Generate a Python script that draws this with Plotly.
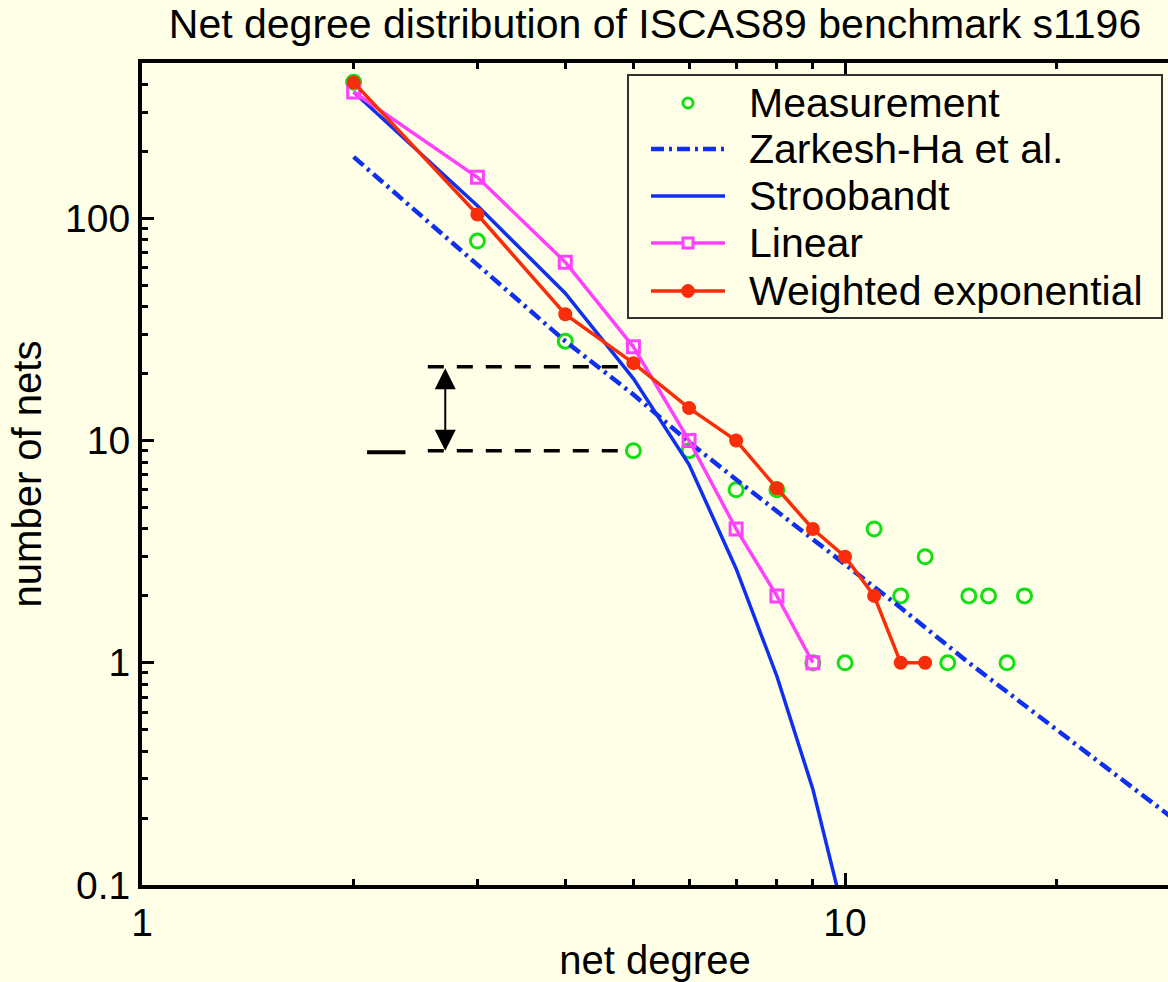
import math
import plotly.graph_objects as go

# ---------------- data ----------------
meas_degree = [2, 3, 4, 5, 6, 7, 8, 9, 10, 11, 12, 13, 14, 15, 16, 17, 18]
meas_nets = [410, 79, 28, 9, 9, 6, 6, 1, 1, 4, 2, 3, 1, 2, 2, 1, 2]

zarkesh_degree = [2, 3, 4, 5, 6, 7, 8, 9, 10, 12, 15, 20, 25, 30]
zarkesh_nets = [189, 61.4, 28, 16.1, 9.84, 6.68, 4.79, 3.59, 2.77, 1.77, 1.0, 0.5, 0.292, 0.188]

stroobandt_degree = [2, 3, 4, 5, 6, 7, 8, 9, 10]
stroobandt_nets = [370, 114, 46, 19, 7.8, 2.65, 0.87, 0.27, 0.07]

linear_degree = [2, 3, 4, 5, 6, 7, 8, 9]
linear_nets = [370, 153, 63.5, 26.4, 10, 4, 2, 1]

wexp_degree = [2, 3, 4, 5, 6, 7, 8, 9, 10, 11, 12, 13]
wexp_nets = [409, 104, 37, 22.3, 14, 10, 6.1, 4, 3, 2, 1, 1]

series_names = ["Measurement", "Zarkesh-Ha et al.", "Stroobandt", "Linear", "Weighted exponential"]

x_tick_vals = [1, 10]
x_tick_text = ["1", "10"]
y_tick_vals = [0.1, 1, 10, 100]
y_tick_text = ["0.1", "1", "10", "100"]
x_minor_vals = [2, 3, 4, 5, 6, 7, 8, 9, 20]
y_minor_vals = [0.2, 0.3, 0.4, 0.5, 0.6, 0.7, 0.8, 0.9, 2, 3, 4, 5, 6, 7, 8, 9,
                20, 30, 40, 50, 60, 70, 80, 90, 200, 300, 400]

x_range = [1, 28.8]
y_range = [0.1, 500]

# gap marker between model and measurement at degree 5
gap_degree = 2.7
gap_model = 21.5
gap_meas = 9.0
gap_line_start = 2.55
gap_line_end = 4.8
stub_start = 2.09
stub_end = 2.37
stub_level = 8.85

# ---------------- style ----------------
FONT = "Liberation Sans, Arial, Helvetica, sans-serif"
FS = 39
FS_BIG = 41
BG = "#FFFEE6"
GREEN = "#12E012"
BLUE = "#1030F0"
MAGENTA = "#FF40FF"
RED = "#FA2D0A"
DASHDOT = "13px,5px,3px,5px"

W, H = 1168, 982
L, R, T, B = 142, 1168, 63, 885


def px(x):
    return (x - L) / (R - L)


def py(y):
    return (B - y) / (B - T)


fig = go.Figure()
fig.add_trace(go.Scatter(x=meas_degree, y=meas_nets, mode="markers", name=series_names[0],
                         marker=dict(symbol="circle-open", size=14, color=GREEN, line=dict(width=3, color=GREEN)),
                         showlegend=False))
fig.add_trace(go.Scatter(x=zarkesh_degree, y=zarkesh_nets, mode="lines", name=series_names[1],
                         line=dict(color=BLUE, width=4.5, dash=DASHDOT), showlegend=False))
fig.add_trace(go.Scatter(x=stroobandt_degree, y=stroobandt_nets, mode="lines", name=series_names[2],
                         line=dict(color=BLUE, width=3.5), showlegend=False))
fig.add_trace(go.Scatter(x=linear_degree, y=linear_nets, mode="lines+markers", name=series_names[3],
                         line=dict(color=MAGENTA, width=3.5),
                         marker=dict(symbol="square-open", size=12, color=MAGENTA, line=dict(width=3, color=MAGENTA)),
                         showlegend=False))
fig.add_trace(go.Scatter(x=wexp_degree, y=wexp_nets, mode="lines+markers", name=series_names[4],
                         line=dict(color=RED, width=3.5),
                         marker=dict(symbol="circle", size=14, color=RED),
                         showlegend=False))

shapes = []
# dashed reference lines and stub
for lvl in (gap_model, gap_meas):
    shapes.append(dict(type="line", xref="x", yref="y", x0=gap_line_start, x1=gap_line_end, y0=lvl, y1=lvl,
                       line=dict(color="black", width=3.5, dash="16px,13px")))
shapes.append(dict(type="line", xref="x", yref="y", x0=stub_start, x1=stub_end, y0=stub_level, y1=stub_level,
                   line=dict(color="black", width=4)))

# custom legend box
shapes.append(dict(type="rect", xref="paper", yref="paper", x0=px(628), x1=px(1162), y0=py(318), y1=py(75),
                   line=dict(color="#333333", width=2), fillcolor=BG, layer="above"))
rows = [103, 149, 196, 243, 291]
gx0, gx1, gxc = px(651), px(725), px(688)
shapes.append(dict(type="circle", xref="paper", yref="paper", xsizemode="pixel", ysizemode="pixel",
                   xanchor=gxc, yanchor=py(rows[0]), x0=-5, x1=5, y0=-5, y1=5,
                   line=dict(color=GREEN, width=3), layer="above"))
shapes.append(dict(type="line", xref="paper", yref="paper", x0=gx0, x1=gx1, y0=py(rows[1]), y1=py(rows[1]),
                   line=dict(color=BLUE, width=4.5, dash=DASHDOT), layer="above"))
shapes.append(dict(type="line", xref="paper", yref="paper", x0=gx0, x1=gx1, y0=py(rows[2]), y1=py(rows[2]),
                   line=dict(color=BLUE, width=3.5), layer="above"))
shapes.append(dict(type="line", xref="paper", yref="paper", x0=gx0, x1=gx1, y0=py(rows[3]), y1=py(rows[3]),
                   line=dict(color=MAGENTA, width=3.5), layer="above"))
shapes.append(dict(type="rect", xref="paper", yref="paper", xsizemode="pixel", ysizemode="pixel",
                   xanchor=gxc, yanchor=py(rows[3]), x0=-5, x1=5, y0=-5, y1=5,
                   line=dict(color=MAGENTA, width=3), fillcolor=BG, layer="above"))
shapes.append(dict(type="line", xref="paper", yref="paper", x0=gx0, x1=gx1, y0=py(rows[4]), y1=py(rows[4]),
                   line=dict(color=RED, width=3.5), layer="above"))
shapes.append(dict(type="circle", xref="paper", yref="paper", xsizemode="pixel", ysizemode="pixel",
                   xanchor=gxc, yanchor=py(rows[4]), x0=-6.5, x1=6.5, y0=-6.5, y1=6.5,
                   line=dict(color=RED, width=1), fillcolor=RED, layer="above"))

annotations = []
for name, ry in zip(series_names, rows):
    annotations.append(dict(xref="paper", yref="paper", x=px(747), y=py(ry), text=name, showarrow=False,
                            xanchor="left", yanchor="middle", font=dict(family=FONT, size=FS_BIG, color="black")))

# double-headed arrow
annotations.append(dict(xref="x", yref="y", axref="x", ayref="y",
                        x=math.log10(gap_degree), y=math.log10(gap_meas),
                        ax=math.log10(gap_degree), ay=math.log10(gap_model),
                        text="", showarrow=True, arrowhead=2, startarrowhead=2, arrowside="end+start",
                        arrowwidth=2, arrowsize=2.1, startarrowsize=2.1, arrowcolor="black",
                        standoff=0, startstandoff=0))

fig.update_layout(
    width=W, height=H,
    margin=dict(l=L, r=W - R, t=T, b=H - B, pad=0),
    paper_bgcolor=BG, plot_bgcolor=BG,
    font=dict(family=FONT, size=FS, color="black"),
    title=dict(text="Net degree distribution of ISCAS89 benchmark s1196", x=0.5, xref="paper",
               xanchor="center", y=1 - 24 / H, yref="container", yanchor="middle",
               font=dict(family=FONT, size=FS_BIG, color="black")),
    showlegend=False,
    shapes=shapes,
    annotations=annotations,
)

fig.update_xaxes(type="log", range=[math.log10(v) for v in x_range],
                 tickmode="array", tickvals=x_tick_vals, ticktext=x_tick_text,
                 ticks="inside", ticklen=12, tickwidth=2.5, tickcolor="black",
                 showline=True, linewidth=4, linecolor="black", mirror="ticks",
                 showgrid=False, zeroline=False,
                 minor=dict(tickmode="array", tickvals=x_minor_vals, ticks="inside", ticklen=6,
                            tickwidth=2.5, tickcolor="black", showgrid=False),
                 title=dict(text="net degree", standoff=10, font=dict(family=FONT, size=40)),
                 tickfont=dict(family=FONT, size=FS))
fig.update_yaxes(type="log", range=[math.log10(v) for v in y_range],
                 tickmode="array", tickvals=y_tick_vals, ticktext=y_tick_text,
                 ticks="inside", ticklen=12, tickwidth=2.5, tickcolor="black",
                 showline=True, linewidth=4, linecolor="black", mirror=False,
                 showgrid=False, zeroline=False,
                 minor=dict(tickmode="array", tickvals=y_minor_vals, ticks="inside", ticklen=6,
                            tickwidth=2.5, tickcolor="black", showgrid=False),
                 title=dict(text="number of nets", standoff=12, font=dict(family=FONT, size=40)),
                 tickfont=dict(family=FONT, size=FS))

fig.write_html("out.html")
